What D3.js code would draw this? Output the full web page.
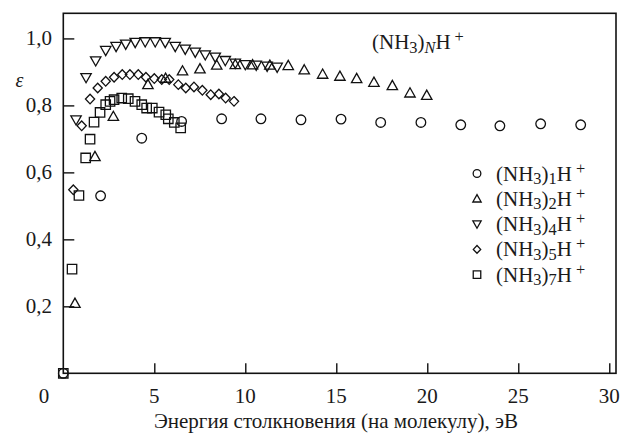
<!DOCTYPE html>
<html>
<head>
<meta charset="utf-8">
<script src="https://cdn.jsdelivr.net/npm/d3@7"></script>
<style>
  body { margin: 0; background: #fff; }
  svg text { font-family: "Liberation Serif", "Tinos", "DejaVu Serif", "Times New Roman", serif; fill: #1a1a1a; }
</style>
</head>
<body>
<svg id="chart" width="631" height="437"></svg>
<script>
// ticks
const xTicks = [0, 5, 10, 15, 20, 25, 30];
const yTicks = [0.2, 0.4, 0.6, 0.8, 1.0];

// [collision energy per molecule (eV), epsilon]
const n1 = [[0, 0], [2.05, 0.53], [4.31, 0.702], [6.5, 0.752], [8.7, 0.76], [10.86, 0.76],
  [13.06, 0.757], [15.26, 0.759], [17.44, 0.749], [19.65, 0.749], [21.84, 0.742],
  [23.99, 0.739], [26.23, 0.745], [28.43, 0.742]];
const n2 = [[0.64, 0.209], [1.74, 0.647], [2.75, 0.767], [4.65, 0.862], [5.62, 0.881],
  [6.55, 0.903], [7.51, 0.909], [8.43, 0.92], [9.45, 0.922], [10.4, 0.921], [11.35, 0.92],
  [12.36, 0.919], [13.24, 0.906], [14.25, 0.893], [15.2, 0.887], [16.12, 0.88],
  [17.07, 0.869], [18.08, 0.859], [19.05, 0.837], [19.97, 0.83]];
const n4 = [[0.7, 0.757], [1.25, 0.883], [1.78, 0.933], [2.33, 0.964], [2.9, 0.976],
  [3.43, 0.983], [3.95, 0.988], [4.5, 0.99], [5.05, 0.99], [5.6, 0.988], [6.15, 0.976],
  [6.7, 0.968], [7.25, 0.959], [7.8, 0.951], [8.35, 0.944], [8.9, 0.934], [9.45, 0.926],
  [10.0, 0.922], [10.6, 0.92], [11.2, 0.917], [11.75, 0.914]];
const n5 = [[0.55, 0.548], [1.01, 0.739], [1.47, 0.819], [1.89, 0.852], [2.33, 0.872],
  [2.79, 0.884], [3.24, 0.892], [3.66, 0.892], [4.12, 0.892], [4.54, 0.884], [5.0, 0.88],
  [5.41, 0.877], [5.82, 0.877], [6.32, 0.862], [6.73, 0.852], [7.18, 0.855], [7.64, 0.845],
  [8.1, 0.832], [8.55, 0.834], [8.92, 0.822], [9.38, 0.812]];
const n7 = [[0, 0], [0.48, 0.311], [0.86, 0.531], [1.23, 0.643], [1.47, 0.699], [1.69, 0.75],
  [2.02, 0.779], [2.33, 0.802], [2.57, 0.812], [2.79, 0.817], [3.21, 0.822], [3.57, 0.82],
  [3.94, 0.812], [4.31, 0.802], [4.58, 0.792], [4.89, 0.792], [5.26, 0.78], [5.63, 0.772],
  [5.77, 0.76], [6.1, 0.749], [6.45, 0.733]];

const seriesNames = ["1", "2", "4", "5", "7"];
const seriesData = [n1, n2, n4, n5, n7];
const seriesShapes = ["circle", "up", "down", "diamond", "square"];

const svg = d3.select("#chart");
const x = d3.scaleLinear().domain([0, 30.37]).range([63.3, 616]);
const y = d3.scaleLinear().domain([0, 1.075]).range([373.3, 13.3]);

// marker path, k scales the size
function marker(shape, k) {
  let p = d3.path();
  if (shape === "circle") {
    p.arc(0, 0, 4.8 * k, 0, 2 * Math.PI);
  } else if (shape === "up") {
    p.moveTo(0, -5.2 * k); p.lineTo(5.2 * k, 4 * k); p.lineTo(-5.2 * k, 4 * k); p.closePath();
  } else if (shape === "down") {
    p.moveTo(0, 5.2 * k); p.lineTo(5.2 * k, -4 * k); p.lineTo(-5.2 * k, -4 * k); p.closePath();
  } else if (shape === "diamond") {
    p.moveTo(0, -4.8 * k); p.lineTo(4.6 * k, 0); p.lineTo(0, 4.8 * k); p.lineTo(-4.6 * k, 0); p.closePath();
  } else {
    p.rect(-4.7 * k, -4.7 * k, 9.4 * k, 9.4 * k);
  }
  return p.toString();
}

// axes, ticks pointing inward
let xAxis = d3.axisBottom(x).tickValues(xTicks.slice(1)).tickSize(-10).tickFormat("");
svg.append("g").attr("transform", "translate(0," + y(0) + ")").call(xAxis)
  .call(g => g.select(".domain").remove())
  .selectAll("line").attr("stroke", "#111").attr("stroke-width", 1.4);

let yAxis = d3.axisLeft(y).tickValues(yTicks).tickSize(-11).tickFormat("");
svg.append("g").attr("transform", "translate(" + x(0) + ",0)").call(yAxis)
  .call(g => g.select(".domain").remove())
  .selectAll("line").attr("stroke", "#111").attr("stroke-width", 1.4);

svg.append("rect")
  .attr("x", x(0)).attr("y", y(1.075))
  .attr("width", x(30.37) - x(0)).attr("height", y(0) - y(1.075))
  .attr("fill", "none").attr("stroke", "#111").attr("stroke-width", 1.6);

// tick labels
svg.selectAll(".xl").data(xTicks).enter().append("text")
  .attr("x", d => d === 0 ? 44 : x(d)).attr("y", 403)
  .attr("text-anchor", "middle").attr("font-size", 21)
  .text(d => d);

svg.selectAll(".yl").data(yTicks).enter().append("text")
  .attr("x", 52).attr("y", d => y(d) + 7)
  .attr("text-anchor", "end").attr("font-size", 21)
  .text(d => d3.format(".1f")(d).replace(".", ","));

svg.append("text").attr("x", 19.5).attr("y", 87)
  .attr("text-anchor", "middle").attr("font-size", 20).attr("font-style", "italic")
  .text("ε");

svg.append("text").attr("x", 336).attr("y", 428)
  .attr("text-anchor", "middle").attr("font-size", 21)
  .text("Энергия столкновения (на молекулу), эВ");

// formula like (NH3)nH+
function formula(sel, n, italicN, size) {
  sel.append("tspan").text("(NH");
  sel.append("tspan").attr("font-size", size * 0.78).attr("dy", 3.5).text("3");
  sel.append("tspan").attr("dy", -3.5).text(")");
  sel.append("tspan").attr("font-size", size * 0.78).attr("dy", 3.5)
    .attr("font-style", italicN ? "italic" : null).text(n);
  sel.append("tspan").attr("dy", -3.5).text("H");
  sel.append("tspan").attr("font-size", size * 0.78).attr("dy", -7).attr("dx", 4).text("+");
}

let title = svg.append("text").attr("x", 372).attr("y", 49).attr("font-size", 21);
formula(title, "N", true, 21);

// data points
seriesData.forEach((data, i) => {
  svg.append("g").selectAll("path").data(data).enter().append("path")
    .attr("d", marker(seriesShapes[i], 1))
    .attr("transform", d => "translate(" + x(d[0]) + "," + y(d[1]) + ")")
    .attr("fill", "none").attr("stroke", "#111").attr("stroke-width", 1.3);
});

// legend
let legend = svg.append("g");
seriesNames.forEach((name, i) => {
  let ly = 173.5 + i * 25.3;
  legend.append("path").attr("d", marker(seriesShapes[i], 0.8))
    .attr("transform", "translate(477," + ly + ")")
    .attr("fill", "none").attr("stroke", "#111").attr("stroke-width", 1.3);
  let t = legend.append("text").attr("x", 496).attr("y", ly + 7).attr("font-size", 21);
  formula(t, name, false, 21);
});
</script>
</body>
</html>
